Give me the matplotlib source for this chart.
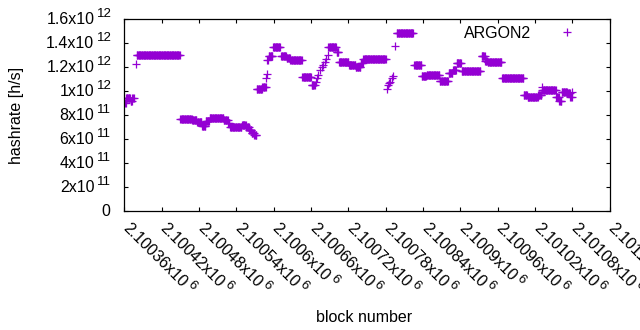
import numpy as np
import matplotlib
matplotlib.use("Agg")
import matplotlib.pyplot as plt
from matplotlib.transforms import offset_copy, blended_transform_factory

# hashrate per block, read off the picture as runs of equal value
# (first block, last block, hashrate in 10^12 h/s)
run_first = [2100361, 2100363, 2100370, 2100373, 2100378, 2100380, 2100450, 2100469,
             2100477, 2100485, 2100491, 2100497, 2100520, 2100527, 2100530, 2100549,
             2100556, 2100561, 2100565, 2100569, 2100573, 2100582, 2100588, 2100589,
             2100590, 2100592, 2100599, 2100612, 2100621, 2100627, 2100646, 2100661,
             2100668, 2100670, 2100672, 2100674, 2100677, 2100680, 2100682, 2100684,
             2100687, 2100688, 2100701, 2100705, 2100721, 2100732, 2100740, 2100744,
             2100782, 2100783, 2100785, 2100787, 2100790, 2100792, 2100795, 2100798,
             2100826, 2100838, 2100846, 2100867, 2100881, 2100888, 2100894, 2100902,
             2100934, 2100940, 2100944, 2100967, 2101002, 2101008, 2101025, 2101031,
             2101032, 2101054, 2101059, 2101063, 2101072, 2101077, 2101080]
run_last = [2100362, 2100369, 2100372, 2100375, 2100378, 2100449, 2100468, 2100476,
            2100484, 2100490, 2100496, 2100519, 2100526, 2100529, 2100548, 2100555,
            2100560, 2100564, 2100568, 2100572, 2100581, 2100587, 2100588, 2100589,
            2100591, 2100598, 2100610, 2100620, 2100626, 2100645, 2100660, 2100666,
            2100668, 2100670, 2100672, 2100674, 2100677, 2100680, 2100682, 2100684,
            2100687, 2100700, 2100704, 2100720, 2100731, 2100739, 2100743, 2100780,
            2100782, 2100783, 2100785, 2100787, 2100790, 2100792, 2100795, 2100824,
            2100837, 2100845, 2100866, 2100880, 2100887, 2100893, 2100901, 2100932,
            2100939, 2100943, 2100966, 2101001, 2101007, 2101024, 2101030, 2101031,
            2101053, 2101058, 2101062, 2101071, 2101076, 2101079, 2101080]
run_rate = [0.90, 0.94, 0.92, 0.945, 1.225, 1.306, 0.771, 0.757,
            0.742, 0.712, 0.75, 0.775, 0.757, 0.735, 0.703, 0.714,
            0.70, 0.675, 0.65, 0.635, 1.015, 1.035, 1.114, 1.147,
            1.264, 1.29, 1.372, 1.294, 1.276, 1.264, 1.122, 1.055,
            1.08, 1.106, 1.133, 1.175, 1.203, 1.22, 1.245, 1.272,
            1.30, 1.372, 1.33, 1.244, 1.219, 1.203, 1.235, 1.272,
            1.022, 1.05, 1.065, 1.078, 1.106, 1.125, 1.375, 1.486,
            1.222, 1.125, 1.131, 1.083, 1.15, 1.18, 1.236, 1.172,
            1.294, 1.255, 1.244, 1.106, 0.97, 0.95, 0.97, 1.036,
            1.008, 0.95, 0.92, 0.994, 0.985, 0.955, 0.99]

xtick_vals = [2100360 + 60 * i for i in range(14)]
xtick_base = ["2.10036x10", "2.10042x10", "2.10048x10", "2.10054x10", "2.1006x10",
              "2.10066x10", "2.10072x10", "2.10078x10", "2.10084x10", "2.1009x10",
              "2.10096x10", "2.10102x10", "2.10108x10", "2.10114x10"]
xtick_exp = "6"
ytick_vals = [0, 2e11, 4e11, 6e11, 8e11, 1e12, 1.2e12, 1.4e12, 1.6e12]
ytick_base = ["0", "2x10", "4x10", "6x10", "8x10", "1x10", "1.2x10", "1.4x10", "1.6x10"]
ytick_exp = ["", "11", "11", "11", "11", "12", "12", "12", "12"]

blocks = np.concatenate([np.arange(a, b + 1) for a, b in zip(run_first, run_last)])
rate = np.concatenate([np.full(b - a + 1, r) for a, b, r in
                       zip(run_first, run_last, run_rate)]) * 1e12

plt.rcParams['font.family'] = ['Liberation Sans', 'DejaVu Sans']
fs = 11.5
efs = 9.5
purple = '#9400d3'

fig = plt.figure(figsize=(6.4, 3.3), dpi=100)
W, H = 640.0, 330.0
x0, x1, y0, y1 = 124.3, 609.7, 19.3, 211.0
ax = fig.add_axes([x0 / W, 1 - y1 / H, (x1 - x0) / W, (y1 - y0) / H])

ax.plot(blocks, rate, linestyle='none', marker='+', ms=5.2, mew=0.9,
        color=purple, label='ARGON2')

ax.set_xlim(2100360, 2101140)
ax.set_ylim(0, 1.6e12)
ax.set_xticks(xtick_vals)
ax.set_yticks(ytick_vals)
ax.set_xticklabels([])
ax.set_yticklabels([])
ax.tick_params(direction='in', length=3, width=0.8, top=True, right=True)
for s in ax.spines.values():
    s.set_linewidth(0.9)

# y tick labels, gnuplot style "1.2x10^12"
ytr = blended_transform_factory(ax.transAxes, ax.transData)
for v, b, e in zip(ytick_vals, ytick_base, ytick_exp):
    if e:
        ax.text(0, v, b, fontsize=fs, ha='right', va='center',
                transform=offset_copy(ytr, fig, x=-30, y=0, units='dots'))
        ax.text(0, v, e, fontsize=efs, ha='left', va='center',
                transform=offset_copy(ytr, fig, x=-27.5, y=5, units='dots'))
    else:
        ax.text(0, v, b, fontsize=fs, ha='right', va='center',
                transform=offset_copy(ytr, fig, x=-14, y=0, units='dots'))

# x tick labels rotated by -45
fig.canvas.draw()
renderer = fig.canvas.get_renderer()
xtr = blended_transform_factory(ax.transData, ax.transAxes)
d = np.array([np.sqrt(0.5), -np.sqrt(0.5)])
up = np.array([np.sqrt(0.5), np.sqrt(0.5)])
ax0 = np.array([1.0, -15.0])
for v, b in zip(xtick_vals, xtick_base):
    t = ax.text(v, 0, b, fontsize=fs, rotation=-45, rotation_mode='anchor',
                ha='left', va='center', clip_on=False,
                transform=offset_copy(xtr, fig, x=ax0[0], y=ax0[1], units='dots'))
    w = renderer.get_text_width_height_descent(b, t.get_fontproperties(), ismath=False)[0]
    p = ax0 + (w + 2) * d + 5 * up
    ax.text(v, 0, xtick_exp, fontsize=efs, rotation=-45, rotation_mode='anchor',
            ha='left', va='center', clip_on=False,
            transform=offset_copy(xtr, fig, x=p[0], y=p[1], units='dots'))

ax.set_xlabel('block number', fontsize=fs, va='center')
ax.xaxis.set_label_coords(0.4938, -0.553)
ax.set_ylabel('hashrate [h/s]', fontsize=fs, va='center')
ax.yaxis.set_label_coords((16.7 - x0) / (x1 - x0), 0.5)

ax.legend(loc='upper right', bbox_to_anchor=(0.945, 0.967), markerfirst=False,
          frameon=False, handlelength=2, handletextpad=1.25, borderpad=0,
          borderaxespad=0, fontsize=fs)

fig.savefig('out.png', dpi=100)
